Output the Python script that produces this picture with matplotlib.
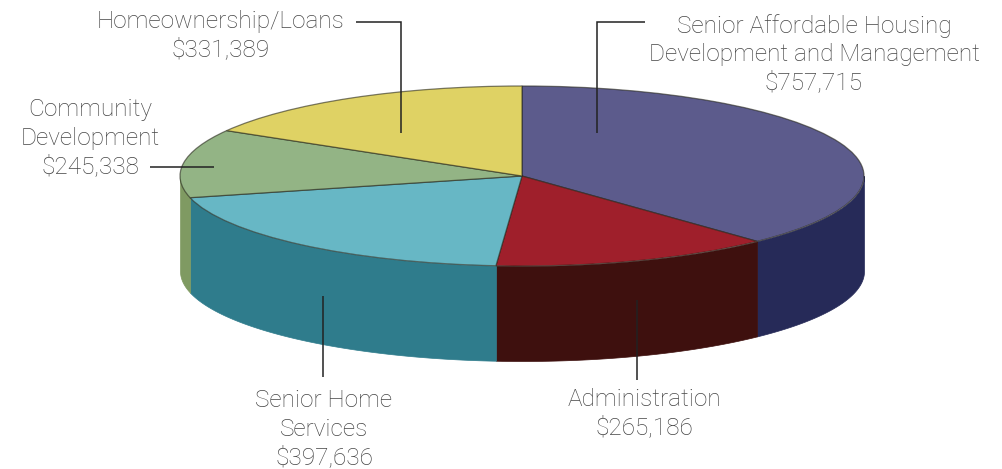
import numpy as np
import matplotlib
matplotlib.use('Agg')
import matplotlib.pyplot as plt

# budget slices, clockwise from twelve o'clock
names = ['Senior Affordable Housing', 'Administration', 'Senior Home Services',
         'Community Development', 'Homeownership/Loans']
values = [757715, 265186, 397636, 245338, 331389]
top_colors = ['#5c5b8c', '#9f1f2b', '#67b7c5', '#93b485', '#dfd264']
wall_colors = ['#262a58', '#3e100e', '#2f7c8c', '#7f9a62', '#b0a040']

labels = ['Senior Affordable Housing\nDevelopment and Management\n$757,715',
          'Administration\n$265,186',
          'Senior Home\nServices\n$397,636',
          'Community\nDevelopment\n$245,338',
          'Homeownership/Loans\n$331,389']
label_pos = [(814, 54), (644, 414), (324, 429), (90, 138), (221, 36)]
leaders = [([645, 597, 597], [22, 22, 133]),
           ([637, 637], [300, 380]),
           ([323, 323], [296, 377]),
           ([150, 214], [167, 167]),
           ([356, 401, 401], [22, 22, 133])]

W, H = 1003, 469
cx, cy, rx, ry, depth = 522, 176, 342, 90, 95

fig = plt.figure(figsize=(W / 100, H / 100), dpi=100)

# pie axes: one data unit is the ellipse radius, so the pie gets squashed
ax = fig.add_axes([0, 0, 1, 1])
ax.pie(values, colors=top_colors, startangle=90, counterclock=False, radius=1,
       wedgeprops={'edgecolor': (0.15, 0.15, 0.1, 0.6), 'linewidth': 0.9, 'zorder': 3})
ax.set_aspect('auto')
ax.set_xlim(-cx / rx, (W - cx) / rx)
ax.set_ylim((cy - H) / ry, cy / ry)

# side walls
d = depth / ry
edges = np.cumsum([0] + values) / sum(values) * 2 * np.pi
for i in range(len(values)):
    a0 = max(edges[i], np.pi / 2)
    a1 = min(edges[i + 1], 3 * np.pi / 2)
    if a1 <= a0:
        continue
    t = np.linspace(a0, a1, 100)
    ax.fill_between(np.sin(t), np.cos(t), np.cos(t) - d, color=wall_colors[i],
                    lw=0.5, zorder=2)

# labels and leader lines in pixel coordinates
px = fig.add_axes([0, 0, 1, 1])
px.set_xlim(0, W)
px.set_ylim(H, 0)
px.axis('off')
px.patch.set_alpha(0)
for lab, (x, y) in zip(labels, label_pos):
    px.text(x, y, lab, ha='center', va='center', fontsize=17.6, color='#454545',
            family='Roboto', weight='light', linespacing=1.29)
for xs, ys in leaders:
    px.plot(xs, ys, color='#222222', lw=1.1, solid_capstyle='butt', solid_joinstyle='miter')

fig.savefig('out.png', dpi=100)
